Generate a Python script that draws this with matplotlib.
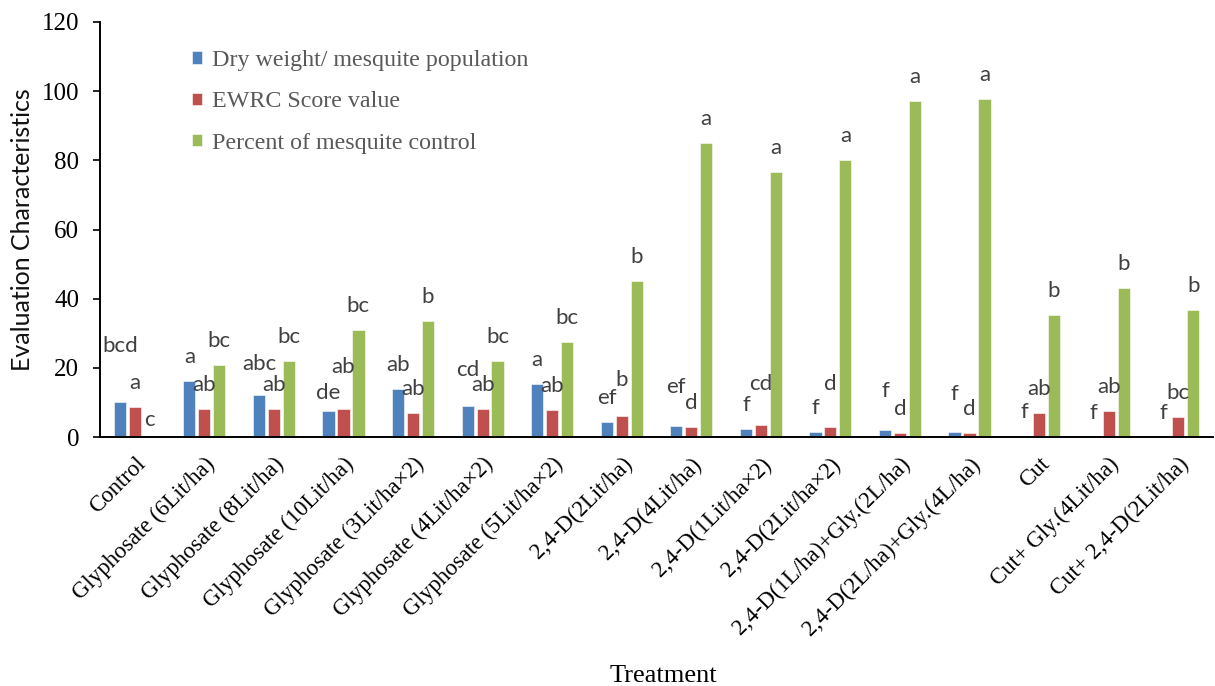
import matplotlib
matplotlib.use("Agg")
import matplotlib.pyplot as plt
import numpy as np

categories = ["Control", "Glyphosate (6Lit/ha)", "Glyphosate (8Lit/ha)", "Glyphosate (10Lit/ha)",
              "Glyphosate (3Lit/ha\u00d72)", "Glyphosate (4Lit/ha\u00d72)", "Glyphosate (5Lit/ha\u00d72)",
              "2,4-D(2Lit/ha)", "2,4-D(4Lit/ha)", "2,4-D(1Lit/ha\u00d72)", "2,4-D(2Lit/ha\u00d72)",
              "2,4-D(1L/ha)+Gly.(2L/ha)", "2,4-D(2L/ha)+Gly.(4L/ha)", "Cut", "Cut+ Gly.(4Lit/ha)",
              "Cut+ 2,4-D(2Lit/ha)"]
dry_weight = [10.0, 16.2, 12.2, 7.4, 14.0, 9.0, 15.3, 4.3, 3.3, 2.3, 1.5, 2.0, 1.4, 0.4, 0.0, 0.1]
ewrc_score = [8.8, 8.1, 8.0, 8.0, 7.0, 8.1, 7.9, 6.2, 2.8, 3.6, 3.0, 1.2, 1.2, 6.9, 7.4, 5.7]
pct_control = [0.0, 20.9, 22.1, 31.0, 33.6, 22.1, 27.6, 45.0, 85.0, 76.6, 80.0, 97.2, 97.7, 35.4, 43.2, 36.6]
dry_letters = ["bcd", "a", "abc", "de", "ab", "cd", "a", "ef", "ef", "f", "f", "f", "f", "f", "f", "f"]
ewrc_letters = ["a", "ab", "ab", "ab", "ab", "ab", "ab", "b", "d", "cd", "d", "d", "d", "ab", "ab", "bc"]
pct_letters = ["c", "bc", "bc", "bc", "b", "bc", "bc", "b", "a", "a", "a", "a", "a", "b", "b", "b"]
series_names = ["Dry weight/ mesquite population", "EWRC Score value", "Percent of mesquite control"]
yticks = [0, 20, 40, 60, 80, 100, 120]

# label layout: extra lift (pixels) of individual letter labels, to keep them apart as in the source
dry_lift = [32, 0, 7, -6, 0, 12, 0, 0, 15, 0, 0, 15, 14, 0, 0, 0]
ewrc_lift = [0, 0, 0, 18, 0, 0, 0, 12, 0, 17, 19, 0, 0, 0, 0, 0]
pct_lift = [-7, 0, 0, 0, 0, 0, 0, 0, 0, 0, 0, 0, 0, 0, 0, 0]

colors = ["#4F81BD", "#C0504D", "#9BBB59"]
serif = ["Liberation Serif", "DejaVu Serif"]
sans = ["Lato", "DejaVu Sans"]

fig = plt.figure(figsize=(12.15, 6.86), dpi=100)
ax = fig.add_axes([100/1215, 1-437/686, 1113/1215, 415/686])

x = np.arange(len(categories))
offs = [-0.215, 0.0, 0.215]
w = 0.175
data = [dry_weight, ewrc_score, pct_control]
letters = [dry_letters, ewrc_letters, pct_letters]
lifts = [dry_lift, ewrc_lift, pct_lift]
for i in range(3):
    ax.bar(x + offs[i], data[i], width=w, color=colors[i], edgecolor="white", linewidth=0.4,
           label=series_names[i], zorder=2)
    for j in range(len(categories)):
        ax.annotate(letters[i][j], (x[j] + offs[i], data[i][j]), xytext=(0, 18 + lifts[i][j]),
                    textcoords="offset pixels", ha="center", va="baseline",
                    fontsize=16, family=sans, color="#404040")

ax.set_xlim(-0.5, len(categories) - 0.5)
ax.set_ylim(0, 120)
ax.set_yticks(yticks)
ax.set_yticklabels([str(t) for t in yticks], family=serif, fontsize=18)
ax.set_xticks(x)
ax.set_xticklabels(categories, rotation=45, ha="right", rotation_mode="anchor",
                   family=serif, fontsize=16.5)
ax.tick_params(axis="x", length=0, pad=12)
ax.tick_params(axis="y", length=5, width=1.2, direction="out", pad=10)
for s in ["top", "right"]:
    ax.spines[s].set_visible(False)
ax.spines["left"].set_linewidth(1.4)
ax.spines["bottom"].set_linewidth(1.4)
ax.set_ylabel("Evaluation Characteristics", family=sans, fontsize=18, color="#111111")
ax.yaxis.set_label_coords(-66/1113, 0.5)
fig.text(663/1215, 1-682/686, "Treatment", family=serif, fontsize=19, ha="center", va="baseline")

leg = ax.legend(loc="upper left", bbox_to_anchor=(192/1215, 1-50/686), bbox_transform=fig.transFigure,
                frameon=False, borderaxespad=0, borderpad=0,
                prop={"family": serif, "size": 17.3}, handlelength=0.42, handleheight=0.42,
                handletextpad=0.4, labelspacing=0.85, labelcolor="#595959")

fig.savefig("out.png", dpi=100)
